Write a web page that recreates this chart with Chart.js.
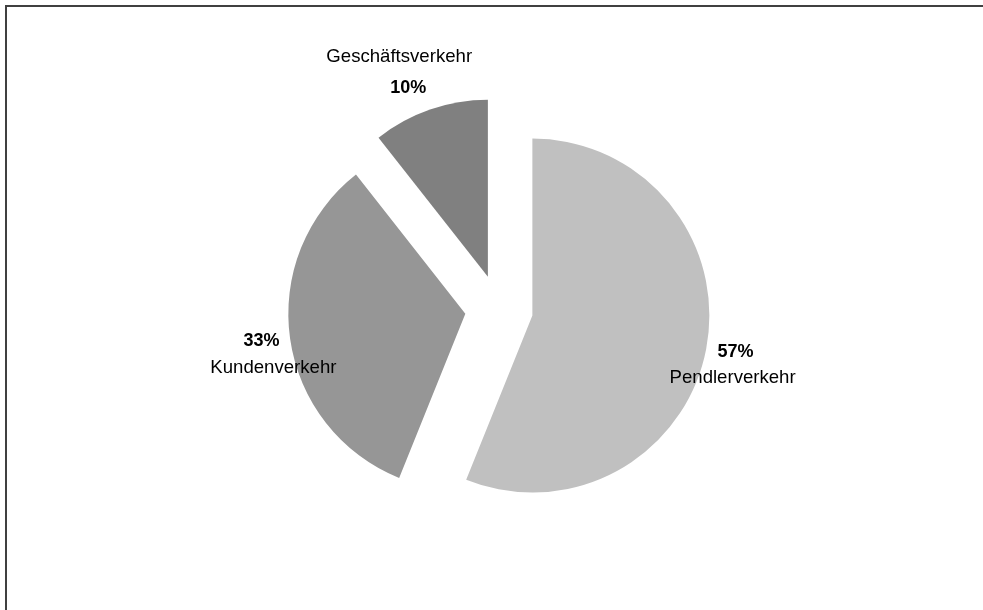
<!DOCTYPE html>
<html>
<head>
<meta charset="utf-8">
<script src="https://cdn.jsdelivr.net/npm/chart.js@4/dist/chart.umd.min.js"></script>
<style>
  html, body { margin: 0; padding: 0; background: #fff; overflow: hidden; }
  #wrap { position: relative; width: 983px; height: 610px; }
  #frame {
    position: absolute; left: 5px; top: 5px; width: 1100px; height: 700px;
    border-left: 2px solid #404040; border-top: 2px solid #404040;
  }
  #chart { position: absolute; left: 0; top: 0; }
</style>
</head>
<body>
<div id="wrap">
  <div id="frame"></div>
  <canvas id="chart" width="983" height="610"></canvas>
</div>
<script>
// slice data (angles) and the printed labels
const categories = ['Pendlerverkehr', 'Kundenverkehr', 'Geschäftsverkehr'];
const shares = [56.1, 33.3, 10.6];
const percentLabels = ['57%', '33%', '10%'];
const sliceColors = ['#c0c0c0', '#969696', '#808080'];

const EXPLODE = 34;      // px each slice is pulled out
const PIE_RADIUS = 177;
const FONT = '"Liberation Sans", Arial, sans-serif';

// per slice: [pct shift], [name shift] from the anchor point
const labelLayout = [
    { pct: [0, -3], name: [-3, 23] },
    { pct: [1, -2], name: [13, 25] },
    { pct: [-12, 7], name: [-21, -24] }
];

// draw every arc pushed out along its mid angle (like Excel's exploded pie)
const explodePlugin = {
    id: 'explode',
    beforeDatasetDraw(chart, args) {
        const ctx = chart.ctx;
        args.meta.data.forEach(arc => {
            const mid = (arc.startAngle + arc.endAngle) / 2;
            ctx.save();
            ctx.translate(Math.cos(mid) * EXPLODE, Math.sin(mid) * EXPLODE);
            arc.draw(ctx);
            ctx.restore();
        });
        return false;
    },
    afterDatasetsDraw(chart) {
        const ctx = chart.ctx;
        const meta = chart.getDatasetMeta(0);
        ctx.save();
        ctx.fillStyle = '#000';
        ctx.textAlign = 'center';
        ctx.textBaseline = 'middle';
        meta.data.forEach((arc, i) => {
            const mid = (arc.startAngle + arc.endAngle) / 2;
            const dist = arc.outerRadius + EXPLODE + 30;
            const ax = arc.x + Math.cos(mid) * dist;
            const ay = arc.y + Math.sin(mid) * dist;
            const lay = labelLayout[i];
            ctx.font = 'bold 18px ' + FONT;
            ctx.fillText(percentLabels[i], ax + lay.pct[0], ay + lay.pct[1]);
            ctx.font = '18.6px ' + FONT;
            ctx.fillText(categories[i], ax + lay.name[0], ay + lay.name[1]);
        });
        ctx.restore();
    }
};

const ctx = document.getElementById('chart').getContext('2d');
new Chart(ctx, {
    type: 'pie',
    data: {
        labels: categories,
        datasets: [{
            data: shares,
            backgroundColor: sliceColors,
            borderWidth: 0,
            radius: PIE_RADIUS
        }]
    },
    options: {
        responsive: false,
        animation: false,
        layout: { padding: { left: 15, right: 0, top: 8, bottom: 0 } },
        plugins: {
            legend: { display: false },
            tooltip: { enabled: false }
        }
    },
    plugins: [explodePlugin]
});
</script>
</body>
</html>
